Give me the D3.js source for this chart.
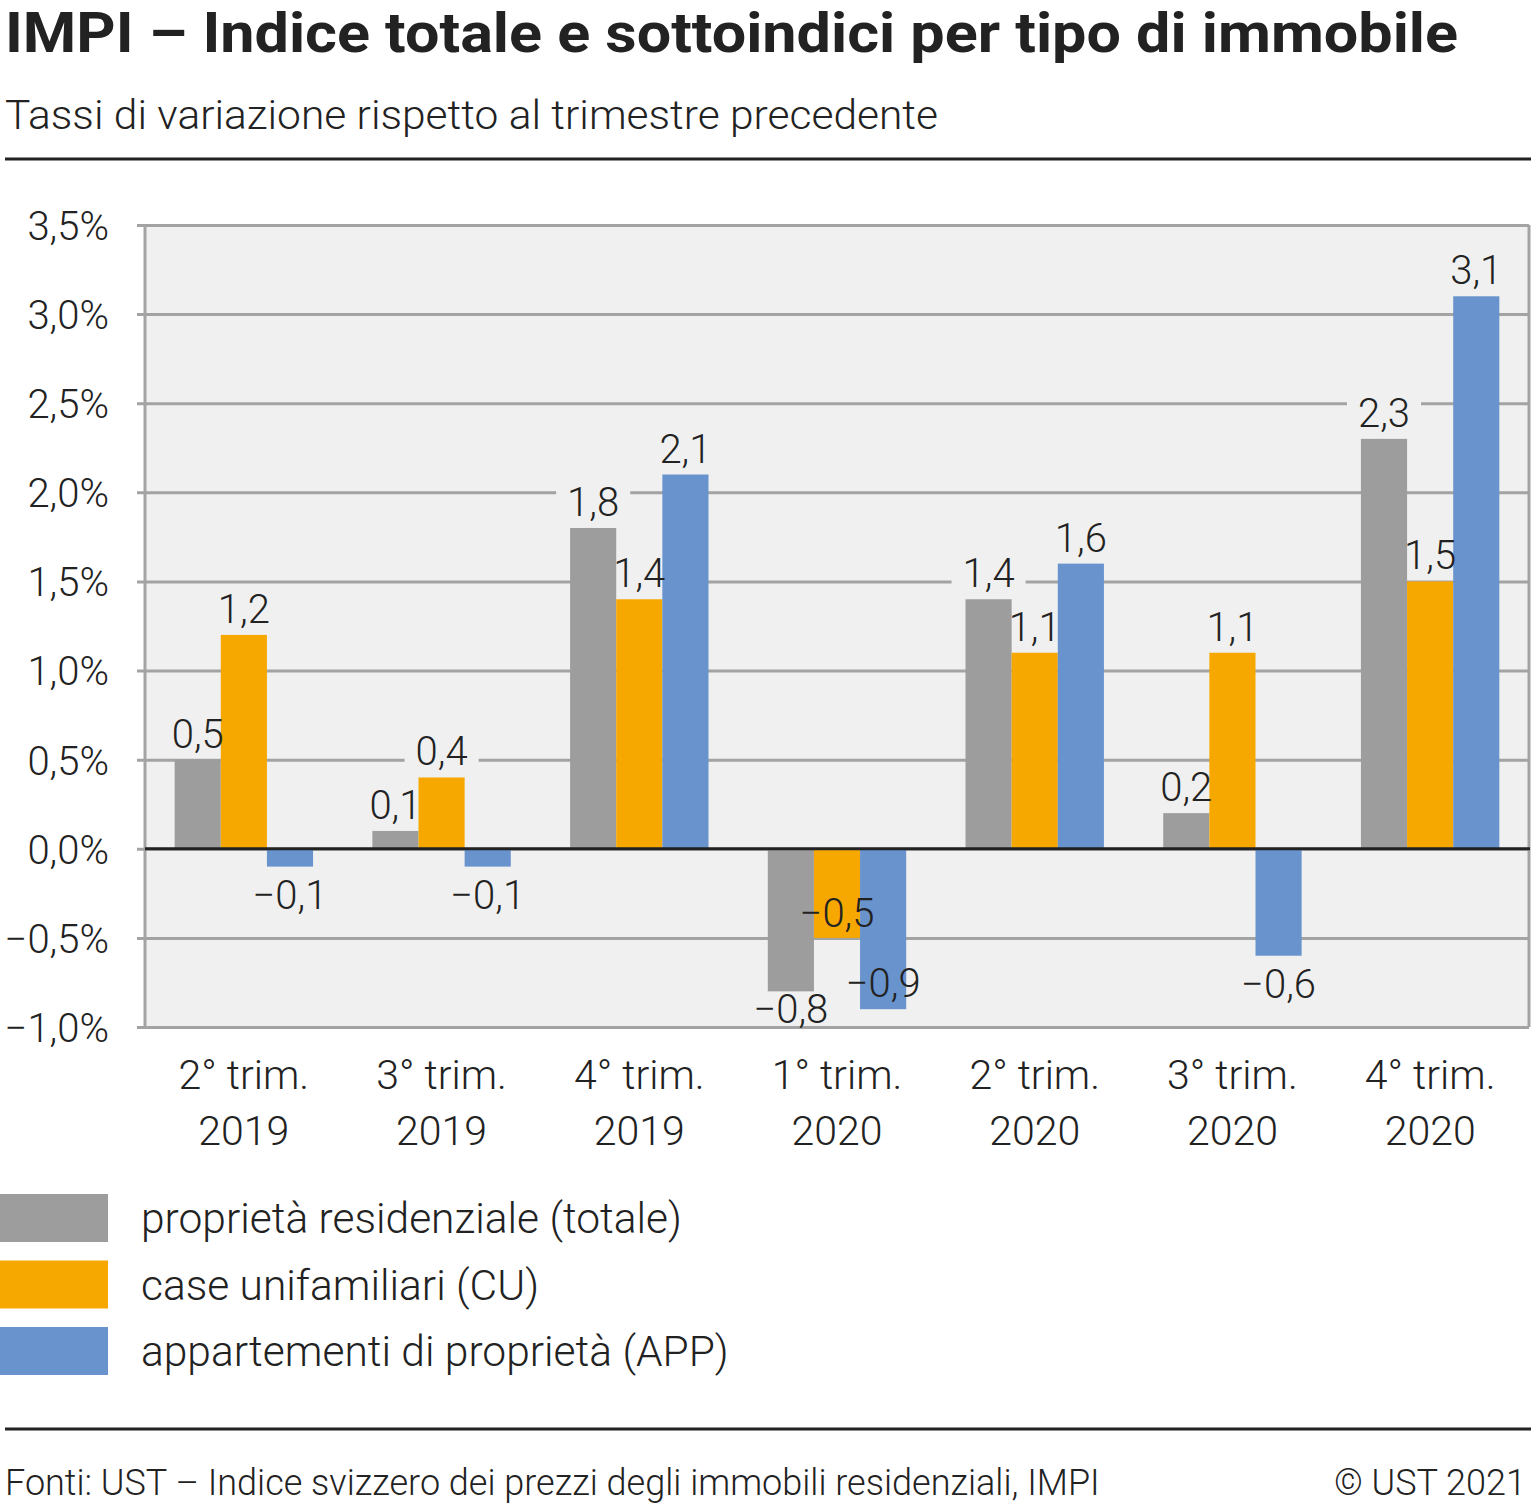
<!DOCTYPE html>
<html>
<head>
<meta charset="utf-8">
<script src="https://cdn.jsdelivr.net/npm/d3@7"></script>
<style>
  html, body { margin: 0; padding: 0; background: #fff; }
  svg { display: block; font-family: Roboto, "Noto Sans", sans-serif; }
</style>
</head>
<body>
<svg id="chart" width="1531" height="1504"></svg>
<script>
// data
const quarters = ["2° trim.", "3° trim.", "4° trim.", "1° trim.", "2° trim.", "3° trim.", "4° trim."]
const years = ["2019", "2019", "2019", "2020", "2020", "2020", "2020"]
const seriesNames = ["proprietà residenziale (totale)", "case unifamiliari (CU)", "appartementi di proprietà (APP)"]
const totale = [0.5, 0.1, 1.8, -0.8, 1.4, 0.2, 2.3]
const cu = [1.2, 0.4, 1.4, -0.5, 1.1, 1.1, 1.5]
const app = [-0.1, -0.1, 2.1, -0.9, 1.6, -0.6, 3.1]
const yTicks = [-1, -0.5, 0, 0.5, 1, 1.5, 2, 2.5, 3, 3.5]

const colors = ["#9d9d9d", "#f7a800", "#6893cd"]
const ink = "#222"
const gridColor = "#a3a3a3"
const plotBg = "#f0f0f0"

// labels the original moved to avoid overlaps (series-index -> dy)
const labelNudge = { "0-3": -10, "1-3": -53, "2-3": -54 }

const locale = d3.formatLocale({ decimal: ",", thousands: "'", grouping: [3], currency: ["", ""], minus: "\u2212" })
const fmtVal = locale.format(".1f")
const fmtTick = (v) => locale.format(".1f")(v) + "%"

const svg = d3.select("#chart")
const plotL = 145, plotR = 1529, plotT = 225, plotB = 1027

// header
svg.append("text")
  .attr("x", 5).attr("y", 52)
  .attr("font-size", 56).attr("font-weight", 700).attr("fill", ink)
  .attr("textLength", 1453).attr("lengthAdjust", "spacingAndGlyphs")
  .text("IMPI \u2013 Indice totale e sottoindici per tipo di immobile")
svg.append("text")
  .attr("x", 5).attr("y", 129)
  .attr("font-size", 40).attr("font-weight", 300).attr("fill", ink)
  .attr("textLength", 933).attr("lengthAdjust", "spacingAndGlyphs")
  .text("Tassi di variazione rispetto al trimestre precedente")
svg.append("line").attr("x1", 5).attr("x2", 1531).attr("y1", 159).attr("y2", 159)
  .attr("stroke", ink).attr("stroke-width", 3)

// scales
const x0 = d3.scaleBand().domain(d3.range(quarters.length)).range([plotL, plotR]).paddingInner(0.3).paddingOuter(0.15)
const x1 = d3.scaleBand().domain(d3.range(seriesNames.length)).range([0, x0.bandwidth()])
const y = d3.scaleLinear().domain([-1, 3.5]).range([plotB, plotT])

// plot background
svg.append("rect").attr("x", plotL).attr("y", plotT).attr("width", plotR - plotL).attr("height", plotB - plotT).attr("fill", plotBg)

// label backgrounds go here, under the gridlines' knock-out layer
const gBg = svg.append("g")

// gridlines + y axis
const yAxis = d3.axisLeft(y).tickValues(yTicks).tickSize(0).tickFormat(fmtTick)
const gy = svg.append("g").attr("transform", `translate(${plotL},0)`).call(yAxis)
gy.select(".domain").remove()
gy.selectAll(".tick line").attr("x1", -8).attr("x2", plotR - plotL).attr("stroke", gridColor).attr("stroke-width", 3)
gy.selectAll(".tick text").attr("x", -36).attr("dy", "0.36em")
  .attr("font-size", 40).attr("font-weight", 300).attr("fill", ink).attr("font-family", "Roboto")
svg.append("line").attr("x1", plotL).attr("x2", plotL).attr("y1", plotT).attr("y2", plotB).attr("stroke", gridColor).attr("stroke-width", 3)
svg.append("line").attr("x1", plotR).attr("x2", plotR).attr("y1", plotT).attr("y2", plotB).attr("stroke", gridColor).attr("stroke-width", 3)

// move the bg layer above the inner gridlines so labels knock them out
gBg.raise()

// bar records
const series = [totale, cu, app]
const bars = []
series.forEach((vals, s) => vals.forEach((v, i) => bars.push({ s, i, v })))

function labelY(d) {
  const base = d.v >= 0 ? y(d.v) - 12 : y(d.v) + 42
  return base + (labelNudge[d.s + "-" + d.i] || 0)
}
const labelX = (d) => x0(d.i) + x1(d.s) + x1.bandwidth() / 2

// layer order: label backgrounds < bars < zero line < label text
const gBars = svg.append("g")
const gZero = svg.append("g")
const gLabels = svg.append("g")

gBars.selectAll("rect").data(bars).join("rect")
  .attr("x", (d) => x0(d.i) + x1(d.s))
  .attr("width", x1.bandwidth())
  .attr("y", (d) => y(Math.max(0, d.v)))
  .attr("height", (d) => Math.abs(y(d.v) - y(0)))
  .attr("fill", (d) => colors[d.s])

gZero.append("line").attr("x1", plotL).attr("x2", plotR + 1).attr("y1", y(0)).attr("y2", y(0))
  .attr("stroke", ink).attr("stroke-width", 3)

const labels = gLabels.selectAll("text").data(bars).join("text")
  .attr("x", labelX).attr("y", labelY)
  .attr("text-anchor", "middle")
  .attr("font-size", 40).attr("font-weight", 300).attr("fill", ink)
  .text((d) => fmtVal(d.v))

labels.each(function (d) {
  const w = this.getComputedTextLength()
  const ty = labelY(d) - 32
  const by = Math.min(labelY(d) + 2, plotB - 2)
  gBg.append("rect")
    .attr("x", labelX(d) - w / 2 - 11)
    .attr("y", ty)
    .attr("width", w + 22)
    .attr("height", by - ty)
    .attr("fill", plotBg)
})

// category labels
const gx = svg.append("g")
quarters.forEach((q, i) => {
  const cx = x0(i) + x0.bandwidth() / 2
  const t = gx.append("text").attr("text-anchor", "middle").attr("font-size", 41).attr("font-weight", 300).attr("fill", ink)
  t.append("tspan").attr("x", cx).attr("y", 1089).text(q)
  t.append("tspan").attr("x", cx).attr("y", 1145).text(years[i])
})

// legend
const lg = svg.append("g")
seriesNames.forEach((name, s) => {
  const ly = 1194 + s * 66.5
  lg.append("rect").attr("x", 0).attr("y", ly).attr("width", 108).attr("height", 48).attr("fill", colors[s])
  lg.append("text").attr("x", 141).attr("y", ly + 39)
    .attr("font-size", 42.5).attr("font-weight", 300).attr("fill", ink).text(name)
})

// footer
svg.append("line").attr("x1", 5).attr("x2", 1531).attr("y1", 1429).attr("y2", 1429)
  .attr("stroke", ink).attr("stroke-width", 3)
svg.append("text").attr("x", 5).attr("y", 1495)
  .attr("font-size", 36).attr("font-weight", 300).attr("fill", ink)
  .text("Fonti: UST \u2013 Indice svizzero dei prezzi degli immobili residenziali, IMPI")
svg.append("text").attr("x", 1526).attr("y", 1495).attr("text-anchor", "end")
  .attr("font-size", 36).attr("font-weight", 300).attr("fill", ink)
  .text("\u00a9 UST 2021")
</script>
</body>
</html>
